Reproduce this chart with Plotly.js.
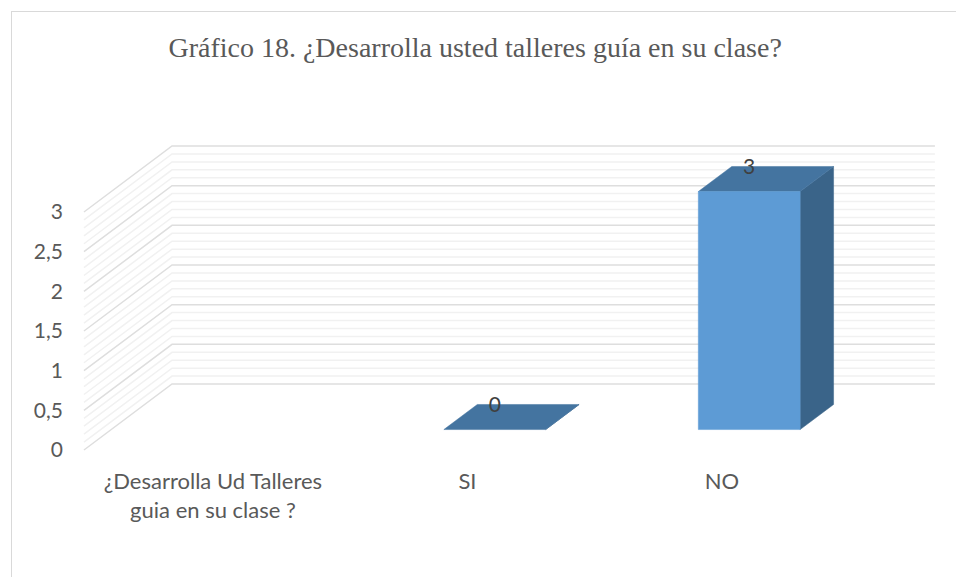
<!DOCTYPE html>
<html>
<head>
<meta charset="utf-8">
<script src="https://cdn.plot.ly/plotly-3.0.1.min.js"></script>
<style>
  html, body { margin: 0; padding: 0; background: #ffffff; }
  #chart { width: 956px; height: 577px; position: absolute; left: 0; top: 0; }
  #frame { position: absolute; left: 11px; top: 11px; width: 945px; height: 566px;
           border-left: 1px solid #d9d9d9; border-top: 1px solid #d9d9d9; pointer-events: none; }
</style>
</head>
<body>
<div id="chart"></div>
<div id="frame"></div>
<script>
// ---- data ----
const categories = ['¿Desarrolla Ud Talleres<br>guia en su clase ?', 'SI', 'NO'];
const values = [null, 0, 3];
const yTickVals = [0, 0.5, 1, 1.5, 2, 2.5, 3];
const titleText = 'Gráfico 18. ¿Desarrolla usted talleres guía en su clase?';

// ---- oblique 3D projection settings (data units) ----
const DEPTH_X = 0.346;   // horizontal shift of the back wall
const DEPTH_Y = 0.832;   // vertical shift of the back wall
const BAR_FRONT = 0.31;  // bar front depth (0 = front, 1 = back wall)
const BAR_BACK = 0.69;   // bar back depth
const BAR_HALF = 0.2;    // half bar width
const WALL_LEFT = -0.507;
const WALL_RIGHT = 2.837;
const yMax = 3;

function proj(x, y, d) { return [x + d * DEPTH_X, y + d * DEPTH_Y]; }

const traces = [];

// walls: gridlines (major every 0.5, minor every 0.1)
function wallLines(step, skipMajor) {
  const xs = [], ys = [];
  const n = Math.round(yMax / step);
  for (let i = 0; i <= n; i++) {
    const v = +(i * step).toFixed(4);
    const isMajor = Math.abs(v / 0.5 - Math.round(v / 0.5)) < 1e-6;
    if (skipMajor && isMajor) continue;
    const a = proj(WALL_LEFT, v, 0), b = proj(WALL_LEFT, v, 1);
    xs.push(a[0], b[0], WALL_RIGHT, null);
    ys.push(a[1], b[1], b[1], null);
  }
  return {xs, ys};
}
const minor = wallLines(0.1, true);
traces.push({type: 'scatter', mode: 'lines', x: minor.xs, y: minor.ys,
  line: {color: '#f1f1f1', width: 1.5}, hoverinfo: 'skip', showlegend: false});
const major = wallLines(0.5, false);
traces.push({type: 'scatter', mode: 'lines', x: major.xs, y: major.ys,
  line: {color: '#dedede', width: 1.5}, hoverinfo: 'skip', showlegend: false});

// bars
values.forEach((v, i) => {
  if (v === null || v === undefined) return;
  const xl = i - BAR_HALF, xr = i + BAR_HALF;
  const fbl = proj(xl, 0, BAR_FRONT), fbr = proj(xr, 0, BAR_FRONT);
  const ftl = proj(xl, v, BAR_FRONT), ftr = proj(xr, v, BAR_FRONT);
  const bbr = proj(xr, 0, BAR_BACK);
  const btl = proj(xl, v, BAR_BACK), btr = proj(xr, v, BAR_BACK);
  // side face
  traces.push({type: 'scatter', mode: 'lines', fill: 'toself', fillcolor: '#3a6489',
    x: [fbr[0], bbr[0], btr[0], ftr[0], fbr[0]], y: [fbr[1], bbr[1], btr[1], ftr[1], fbr[1]],
    line: {color: '#3a6489', width: 0.5}, hoverinfo: 'skip', showlegend: false});
  // top face
  traces.push({type: 'scatter', mode: 'lines', fill: 'toself', fillcolor: '#4474a0',
    x: [ftl[0], ftr[0], btr[0], btl[0], ftl[0]], y: [ftl[1], ftr[1], btr[1], btl[1], ftl[1]],
    line: {color: '#4474a0', width: 0.5}, hoverinfo: 'skip', showlegend: false});
  // front face
  if (v > 0) {
    traces.push({type: 'scatter', mode: 'lines', fill: 'toself', fillcolor: '#5d9bd5',
      x: [fbl[0], fbr[0], ftr[0], ftl[0], fbl[0]], y: [fbl[1], fbr[1], ftr[1], ftl[1], fbl[1]],
      line: {color: '#5d9bd5', width: 0.5}, hoverinfo: 'skip', showlegend: false});
  }
});

// data labels
const lx = [], ly = [], lt = [];
values.forEach((v, i) => {
  if (v === null || v === undefined) return;
  const p = proj(i, v, BAR_FRONT);
  lx.push(p[0]); ly.push(v + (BAR_BACK - 0.04) * DEPTH_Y); lt.push(String(v));
});
traces.push({type: 'scatter', mode: 'text', x: lx, y: ly, text: lt,
  textposition: 'middle center', textfont: {family: 'Lato, sans-serif', size: 21, color: '#404040'},
  hoverinfo: 'skip', showlegend: false, cliponaxis: false});

const layout = {
  width: 956, height: 577,
  margin: {l: 72, r: 16, t: 100, b: 115},
  paper_bgcolor: '#ffffff', plot_bgcolor: '#ffffff',
  separators: ',.',
  showlegend: false,
  title: {text: titleText, x: 0.497, xref: 'container', xanchor: 'center',
          y: 1 - 47 / 577, yref: 'container', yanchor: 'middle',
          font: {family: '"Liberation Serif", "Times New Roman", serif', size: 28, color: '#595959'}},
  xaxis: {range: [-0.554, 2.857], tickvals: [0, 1, 2], ticktext: categories,
          showgrid: false, zeroline: false, showline: false, ticks: '', ticklabelstandoff: 4,
          tickfont: {family: 'Lato, sans-serif', size: 22, color: '#595959'}, fixedrange: true},
  yaxis: {range: [-0.151, 4.412], tickvals: yTickVals,
          showgrid: false, zeroline: false, showline: false, ticks: '', ticklabelstandoff: 8,
          tickfont: {family: 'Lato, sans-serif', size: 21, color: '#595959'}, fixedrange: true}
};

Plotly.newPlot('chart', traces, layout, {displayModeBar: false, staticPlot: true});
</script>
</body>
</html>
